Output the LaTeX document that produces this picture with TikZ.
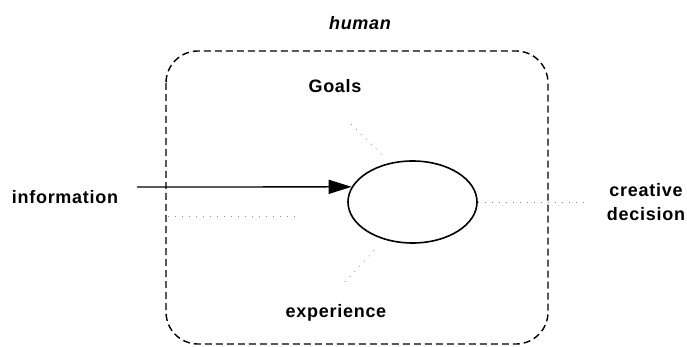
\documentclass[tikz,border=0pt]{standalone}
\usepackage{fontspec}
\setmainfont[LetterSpace=4]{Liberation Sans}
\usetikzlibrary{arrows.meta,shapes.geometric}
\begin{document}
\begin{tikzpicture}[x=1pt,y=-1pt,
  lbl/.style={font=\fontsize{18}{24}\selectfont\bfseries, inner sep=0pt, anchor=base, align=center},
  humanbox/.style={draw, line width=1.4pt, dash pattern=on 7pt off 4pt, rounded corners=32pt},
  core/.style={draw, ellipse, line width=1.6pt, minimum width=129pt, minimum height=82pt, inner sep=0pt},
  arr/.style={line width=1.3pt, -{Triangle[length=23pt,width=14pt]}},
  faint/.style={draw=black!45, line width=0.7pt, dash pattern=on 1pt off 6pt}
]
\useasboundingbox (0,0) rectangle (687,347);
\draw[humanbox] (166,51) rectangle (548,344);
\node[lbl, font=\fontsize{18}{24}\selectfont\bfseries\itshape] (human) at (360,30) {human};
\node[lbl] (goals) at (335,93) {Goals};
\node[lbl] (info) at (65,204) {information};
\node[lbl] (creative) at (646,221) {creative\\decision};
\node[lbl] (exp) at (336,317) {experience};
\node[core] (core) at (412.5,202) {};
\coordinate (ain) at (137,187);
\draw[arr] (ain) -- (core.166);
\coordinate (g1) at (351,124);
\coordinate (g2) at (385,158);
\coordinate (e1) at (345,282);
\coordinate (e2) at (378,246);
\coordinate (h1) at (168,216);
\coordinate (h2) at (298,216);
\coordinate (r2) at (588,202);
\draw[faint] (g1) -- (g2);
\draw[faint] (e1) -- (e2);
\draw[faint] (h1) -- (h2);
\draw[faint] (core.east) -- (r2);
\end{tikzpicture}
\end{document}
